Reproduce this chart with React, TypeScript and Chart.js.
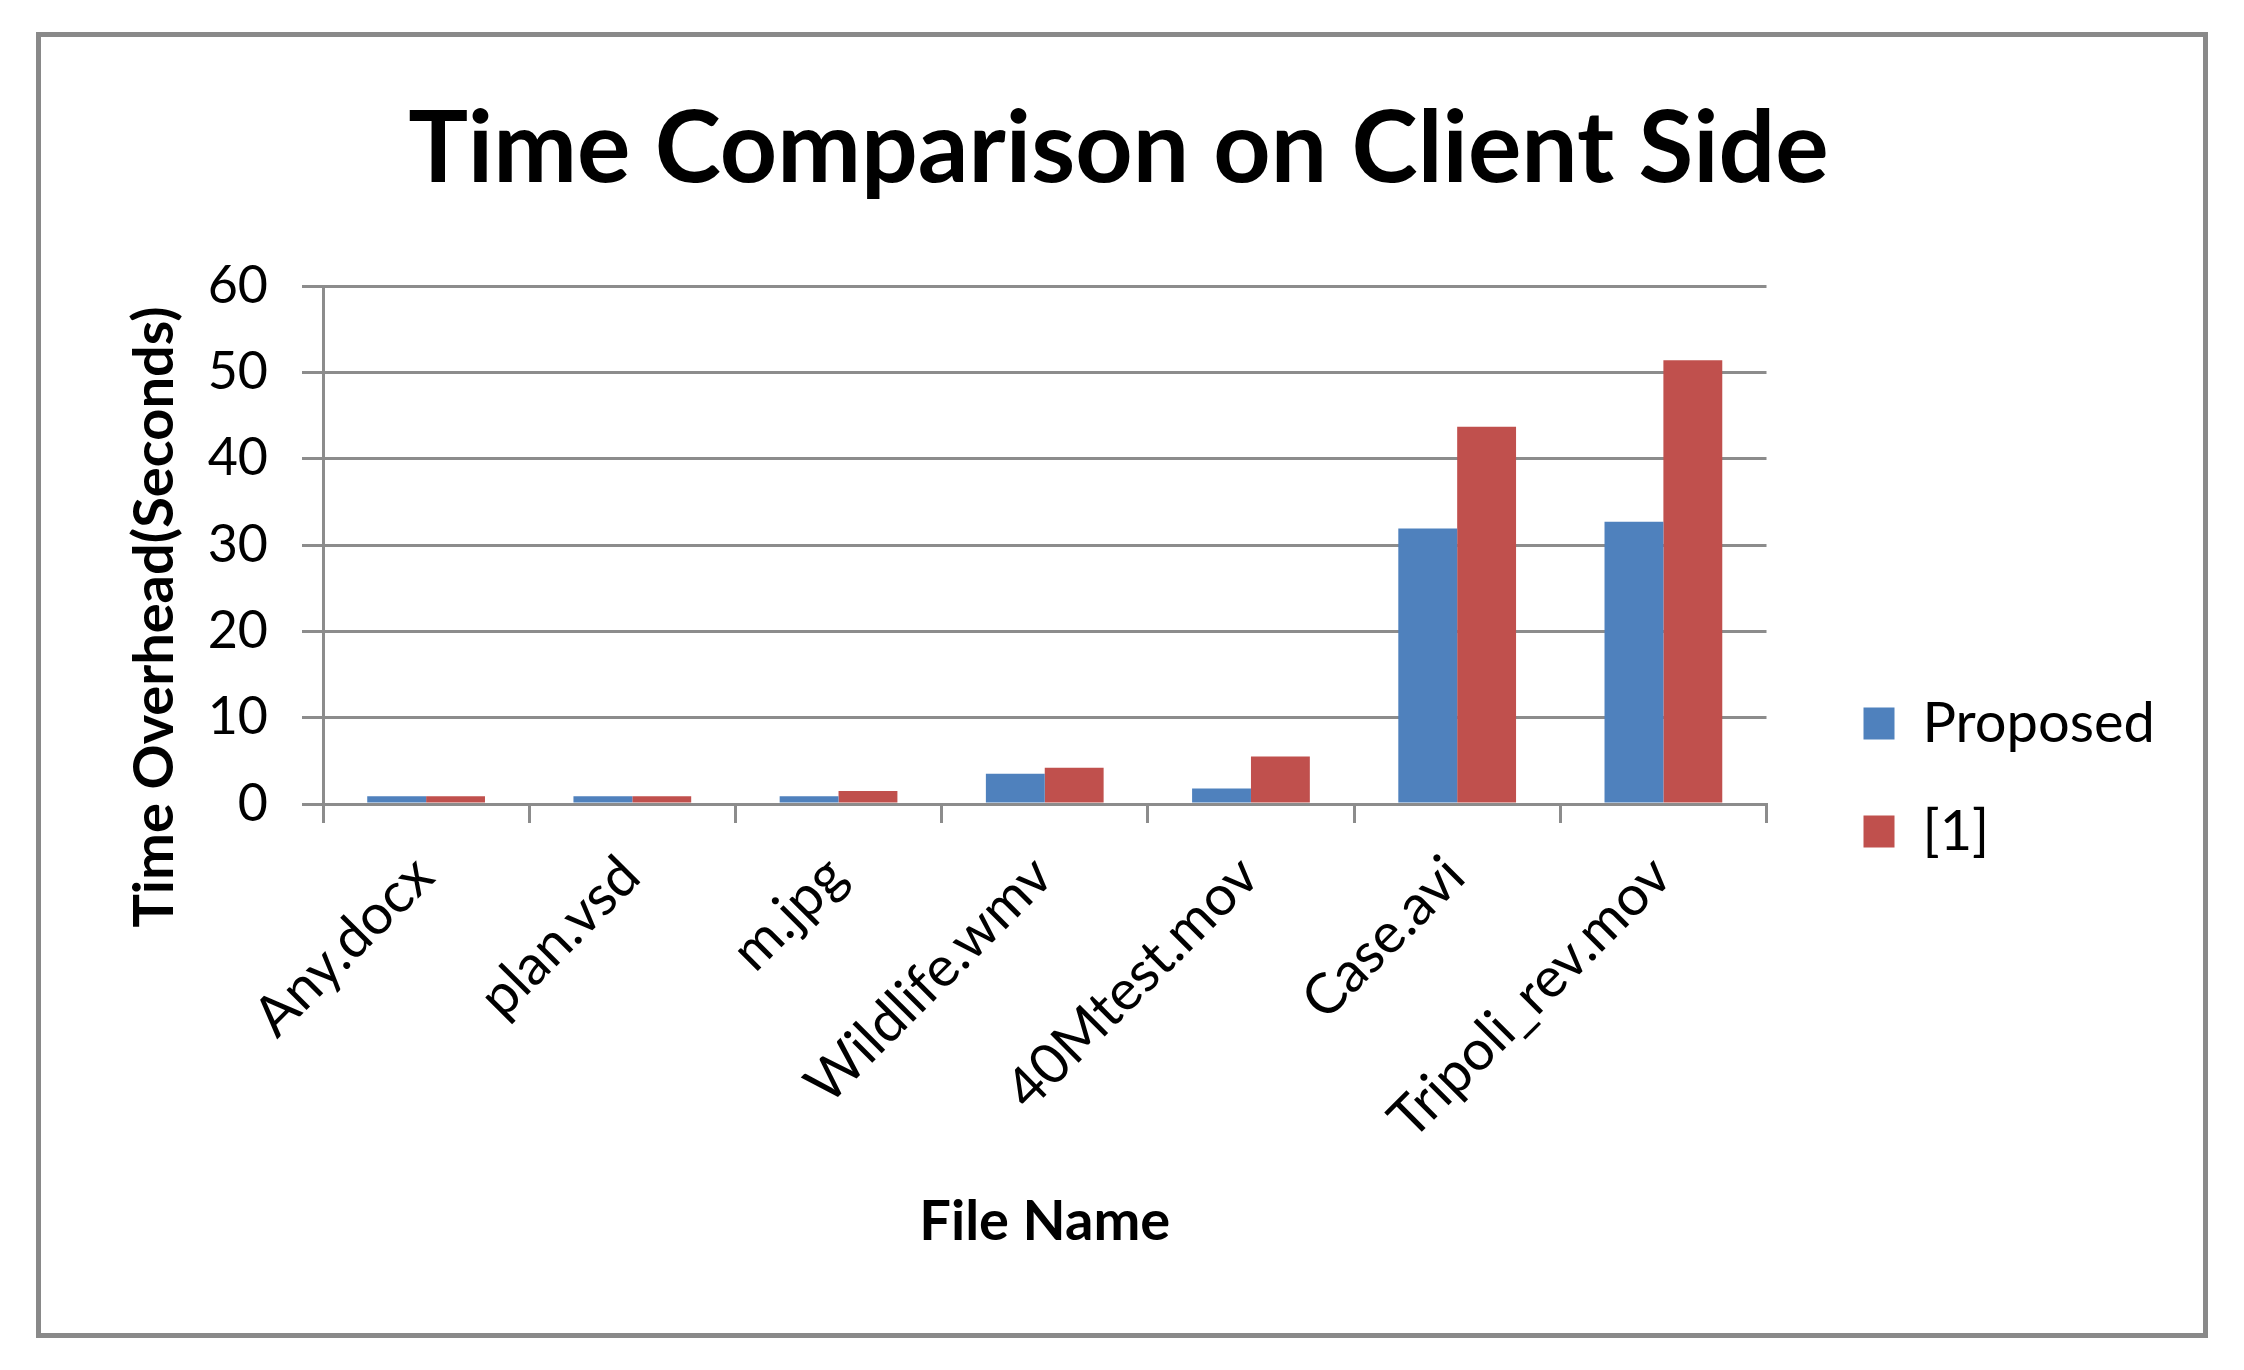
import React, { useEffect, useRef } from 'react';
import { Chart, registerables } from 'chart.js';

Chart.register(...registerables);

const categories = ['Any.docx', 'plan.vsd', 'm.jpg', 'Wildlife.wmv', '40Mtest.mov', 'Case.avi', 'Tripoli_rev.mov'];
const proposedValues = [0.9, 0.9, 0.9, 3.5, 1.8, 31.9, 32.7];
const ref1Values = [0.9, 0.9, 1.5, 4.2, 5.5, 43.7, 51.4];
const seriesNames = ['Proposed', '[1]'];
const seriesColors = ['#4F81BD', '#C0504D'];
const yMin = 0;
const yMax = 60;
const yStep = 10;
const chartTitle = 'Time Comparison on Client Side';
const yTitle = 'Time Overhead(Seconds)';
const xTitle = 'File Name';

const FONT = 'Lato';
const GRID = '#8c8c8c';

const yTitlePlugin = {
  id: 'yTitleText',
  afterDraw(chart: any) {
    const { ctx, chartArea } = chart;
    ctx.save();
    ctx.translate(chartArea.left - 168, chartArea.bottom - 187);
    ctx.rotate(-Math.PI / 2);
    ctx.font = `bold 56px ${FONT}`;
    ctx.fillStyle = '#000';
    ctx.textAlign = 'center';
    ctx.textBaseline = 'middle';
    ctx.fillText(yTitle, 0, 0);
    ctx.restore();
  },
};

export default function App() {
  const ref = useRef<HTMLCanvasElement>(null);

  useEffect(() => {
    Chart.defaults.color = '#000';
    Chart.defaults.font.family = FONT;
    const chart = new Chart(ref.current as HTMLCanvasElement, {
      type: 'bar',
      data: {
        labels: categories,
        datasets: [
          {
            label: seriesNames[0],
            data: proposedValues,
            backgroundColor: seriesColors[0],
            categoryPercentage: 0.571,
            barPercentage: 1,
          },
          {
            label: seriesNames[1],
            data: ref1Values,
            backgroundColor: seriesColors[1],
            categoryPercentage: 0.571,
            barPercentage: 1,
          },
        ],
      },
      options: {
        responsive: false,
        animation: false,
        layout: { padding: { left: 38, top: 0, bottom: 0, right: 45 } },
        plugins: {
          title: {
            display: true,
            text: chartTitle,
            color: '#000',
            font: { family: FONT, size: 100, weight: 'bold', lineHeight: 1.2 },
            padding: { top: 53, bottom: 76 },
          },
          legend: {
            position: 'right',
            title: {
              display: true,
              text: ' ',
              font: { size: 10, lineHeight: 1 },
              padding: { top: 175, bottom: 0 },
            },
            labels: {
              boxWidth: 31,
              boxHeight: 32,
              padding: 52,
              color: '#000',
              font: { family: FONT, size: 56 },
            },
          },
          tooltip: { enabled: false },
        },
        scales: {
          x: {
            grid: {
              display: true,
              drawOnChartArea: false,
              drawTicks: true,
              tickLength: 19,
              offset: true,
              color: GRID,
              lineWidth: 3,
            },
            border: { display: true, color: GRID, width: 3 },
            ticks: {
              color: '#000',
              font: { family: FONT, size: 56 },
              minRotation: 45,
              maxRotation: 45,
              padding: 20,
              labelOffset: -2,
              autoSkip: false,
            },
            title: {
              display: true,
              text: xTitle,
              color: '#000',
              font: { family: FONT, size: 56, weight: 'bold', lineHeight: 1.2 },
              padding: { top: 0, bottom: 77 },
            },
            afterFit: (s: any) => {
              s.height = 529;
            },
          },
          y: {
            min: yMin,
            max: yMax,
            ticks: {
              stepSize: yStep,
              color: '#000',
              font: { family: FONT, size: 52 },
              padding: 34,
            },
            grid: { color: GRID, lineWidth: 3, tickLength: 21 },
            border: { display: true, color: GRID, width: 3 },
            afterFit: (s: any) => {
              s.width = 244;
            },
          },
          y2: {
            type: 'linear',
            position: 'right',
            display: true,
            grid: { display: false },
            border: { display: false },
            ticks: { display: false },
            afterFit: (s: any) => {
              s.width = 45;
            },
          },
        },
      } as any,
      plugins: [yTitlePlugin],
    });
    return () => chart.destroy();
  }, []);

  return (
    <div style={{ position: 'absolute', left: 0, top: 0, width: 2244, height: 1370, background: '#fff' }}>
      <div
        style={{
          position: 'absolute',
          left: 36,
          top: 32,
          width: 2172,
          height: 1306,
          border: '5px solid #898989',
          boxSizing: 'border-box',
        }}
      >
        <canvas ref={ref} width={2162} height={1296} style={{ display: 'block', width: 2162, height: 1296 }} />
      </div>
    </div>
  );
}
